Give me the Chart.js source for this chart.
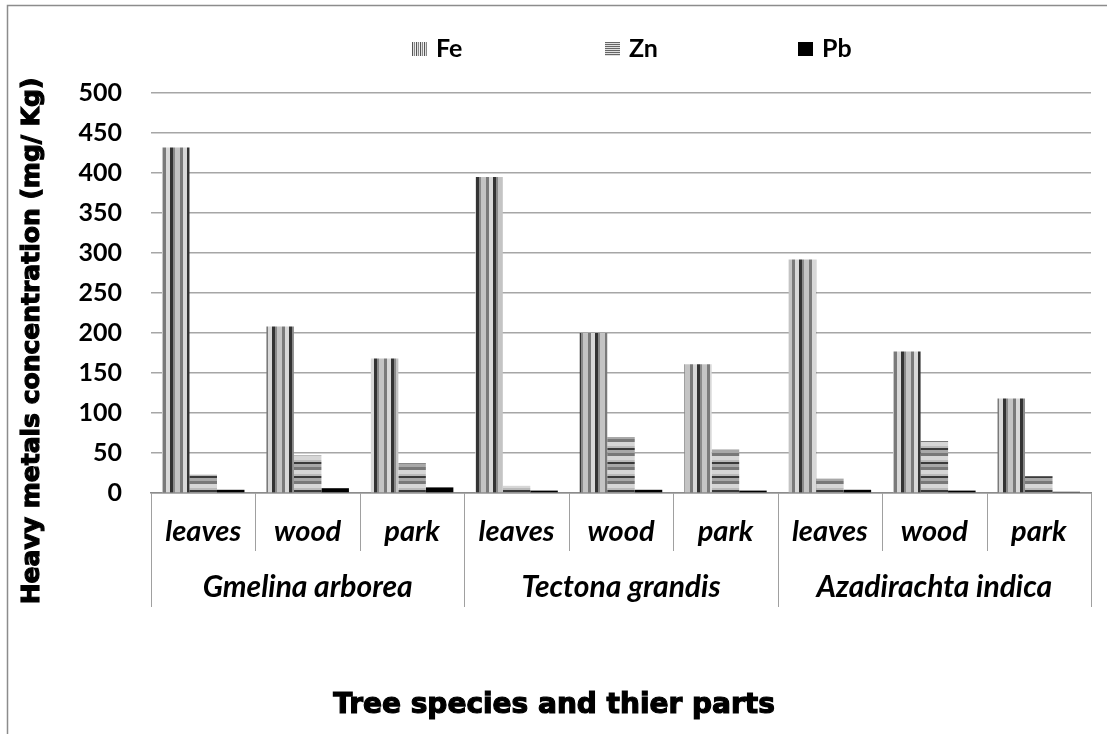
<!DOCTYPE html>
<html>
<head>
<meta charset="utf-8">
<script src="https://cdn.jsdelivr.net/npm/chart.js@4.4.0/dist/chart.umd.min.js"></script>
<style>
  html, body { margin: 0; padding: 0; background: #fff; }
  #wrap { width: 1107px; height: 734px; }
</style>
</head>
<body>
<div id="wrap"><canvas id="chart" width="1107" height="734"></canvas></div>
<script>
// --- Data ---
const parts = ['leaves', 'wood', 'park', 'leaves', 'wood', 'park', 'leaves', 'wood', 'park'];
const species = ['Gmelina arborea', 'Tectona grandis', 'Azadirachta indica'];
const seriesNames = ['Fe', 'Zn', 'Pb'];
const feValues = [432, 208, 168, 395, 200, 161, 292, 177, 118];
const znValues = [23, 47, 37, 9, 70, 54, 18, 65, 21];
const pbValues = [4, 6, 7, 3, 4, 3, 4, 3, 1.5];
const yTicks = [0, 50, 100, 150, 200, 250, 300, 350, 400, 450, 500];

const yTitle = 'Heavy metals concentration (mg/ Kg)';
const xTitle = 'Tree species and thier parts';

// --- Stripe patterns (Excel pattern fills) ---
function makePattern(dir, bands) {
  const size = bands.reduce((s, b) => s + b[0], 0);
  const c = document.createElement('canvas');
  c.width = dir === 'v' ? size : 4;
  c.height = dir === 'v' ? 4 : size;
  const g = c.getContext('2d');
  let pos = 0;
  bands.forEach(([w, col]) => {
    g.fillStyle = col;
    if (dir === 'v') g.fillRect(pos, 0, w, 4);
    else g.fillRect(0, pos, 4, w);
    pos += w;
  });
  return g.createPattern(c, 'repeat');
}

const fePattern = makePattern('v', [[3, '#333'], [2, '#8a8a8a'], [5, '#c4c4c4'], [3, '#7a7a7a'], [4, '#d8d8d8']]);
const znPattern = makePattern('h', [[2, '#3a3a3a'], [3, '#a8a8a8'], [3, '#787878'], [4, '#d6d6d6'], [2, '#bababa']]);
const feLegend = makePattern('v', [[1, '#555'], [1, '#e0e0e0'], [1, '#888'], [1, '#f0f0f0']]);
const znLegend = makePattern('h', [[1, '#666'], [1, '#e0e0e0']]);
const legendFills = [feLegend, znLegend, '#000'];

const labelFont = "'Lato', 'Noto Sans', sans-serif";
const titleFont = "'DejaVu Sans', 'Liberation Sans', sans-serif";

// heavy text (Arial Black look): fill + thin stroke
function heavyText(ctx, text, x, y) {
  ctx.fillText(text, x, y);
  ctx.lineWidth = 1.2;
  ctx.strokeStyle = '#000';
  ctx.strokeText(text, x, y);
}

// --- Extra drawing: frame, multi-level category axis, titles, legend ---
const decorPlugin = {
  id: 'decor',
  beforeDraw(chart) {
    const ctx = chart.ctx;
    ctx.save();
    ctx.strokeStyle = '#8c8c8c';
    ctx.lineWidth = 1.5;
    ctx.beginPath();
    ctx.moveTo(7.5, chart.height);
    ctx.lineTo(7.5, 5.5);
    ctx.lineTo(chart.width, 5.5);
    ctx.stroke();
    ctx.restore();
  },
  afterDraw(chart) {
    const { ctx, scales: { x } } = chart;
    const step = (x.right - x.left) / parts.length;
    ctx.save();

    // category dividers
    ctx.strokeStyle = '#a0a0a0';
    ctx.lineWidth = 1;
    for (let i = 0; i <= parts.length; i++) {
      const px = Math.round(x.left + i * step) + 0.5;
      const len = i % 3 === 0 ? 114 : 58;
      ctx.beginPath();
      ctx.moveTo(px, x.top);
      ctx.lineTo(px, x.top + len);
      ctx.stroke();
    }

    // part labels and species labels
    ctx.fillStyle = '#000';
    ctx.textAlign = 'center';
    ctx.textBaseline = 'alphabetic';
    ctx.font = `italic bold 29px ${labelFont}`;
    parts.forEach((p, i) => ctx.fillText(p, x.getPixelForValue(i), x.top + 48));
    ctx.font = `italic bold 30px ${labelFont}`;
    species.forEach((s, g) => {
      const cx = (x.getPixelForValue(g * 3) + x.getPixelForValue(g * 3 + 2)) / 2;
      ctx.fillText(s, cx, x.top + 104);
    });

    // axis titles
    ctx.textBaseline = 'middle';
    ctx.font = `bold 28px ${titleFont}`;
    heavyText(ctx, xTitle, 554, 706);
    ctx.save();
    ctx.translate(32, 341);
    ctx.rotate(-Math.PI / 2);
    ctx.font = `bold 25px ${titleFont}`;
    heavyText(ctx, yTitle, 0, 0);
    ctx.restore();

    // legend
    ctx.font = `bold 25px ${labelFont}`;
    ctx.textAlign = 'left';
    seriesNames.forEach((name, i) => {
      const bx = 412 + i * 193;
      ctx.fillStyle = legendFills[i];
      ctx.fillRect(bx, 42, 15, 14);
      ctx.fillStyle = '#000';
      ctx.fillText(name, bx + 24, 49);
    });

    ctx.restore();
  }
};

new Chart(document.getElementById('chart'), {
  type: 'bar',
  data: {
    labels: parts,
    datasets: [
      { label: seriesNames[0], data: feValues, backgroundColor: fePattern },
      { label: seriesNames[1], data: znValues, backgroundColor: znPattern },
      { label: seriesNames[2], data: pbValues, backgroundColor: '#000' }
    ]
  },
  options: {
    responsive: false,
    devicePixelRatio: 1,
    animation: false,
    layout: { padding: { top: 93, right: 16, left: 0, bottom: 0 } },
    datasets: { bar: { categoryPercentage: 0.79, barPercentage: 1.0 } },
    plugins: {
      legend: { display: false },
      tooltip: { enabled: false }
    },
    scales: {
      x: {
        ticks: { display: false },
        grid: { display: false },
        border: { display: true, color: '#8c8c8c', width: 1.5 },
        afterFit: s => { s.height = 734 - 93 - 400; }
      },
      y: {
        min: 0,
        max: 500,
        afterBuildTicks: s => { s.ticks = yTicks.map(v => ({ value: v })); },
        ticks: {
          color: '#000',
          padding: 29,
          font: { family: labelFont, weight: 'bold', size: 25 }
        },
        grid: { color: '#a6a6a6', lineWidth: 1.5, drawTicks: false },
        border: { display: false },
        afterFit: s => { s.width = 151; }
      }
    }
  },
  plugins: [decorPlugin]
});
</script>
</body>
</html>
